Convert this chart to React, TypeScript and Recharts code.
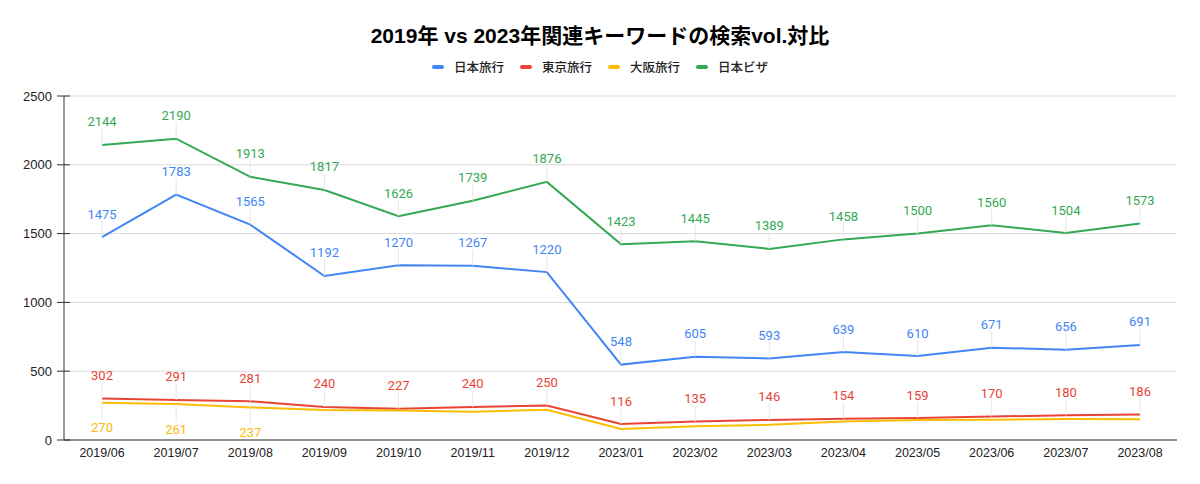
import { LineChart, Line, XAxis, YAxis, CartesianGrid, LabelList } from "recharts";

const months = [
  "2019/06", "2019/07", "2019/08", "2019/09", "2019/10", "2019/11", "2019/12",
  "2023/01", "2023/02", "2023/03", "2023/04", "2023/05", "2023/06", "2023/07", "2023/08",
];
const nihonRyoko = [1475, 1783, 1565, 1192, 1270, 1267, 1220, 548, 605, 593, 639, 610, 671, 656, 691];
const tokyoRyoko = [302, 291, 281, 240, 227, 240, 250, 116, 135, 146, 154, 159, 170, 180, 186];
const osakaRyoko = [270, 261, 237, 218, 215, 205, 220, 80, 100, 110, 135, 145, 148, 152, 150];
const nihonVisa = [2144, 2190, 1913, 1817, 1626, 1739, 1876, 1423, 1445, 1389, 1458, 1500, 1560, 1504, 1573];
const yTicks = [0, 500, 1000, 1500, 2000, 2500];

const series = [
  { key: "nihonRyoko", name: "日本旅行", color: "#4285f4", labelCount: 15, below: false },
  { key: "tokyoRyoko", name: "東京旅行", color: "#ea4335", labelCount: 15, below: false },
  { key: "osakaRyoko", name: "大阪旅行", color: "#fbbc04", labelCount: 3, below: true },
  { key: "nihonVisa", name: "日本ビザ", color: "#34a853", labelCount: 15, below: false },
];

const data = months.map((m, i) => ({
  month: m,
  nihonRyoko: nihonRyoko[i],
  tokyoRyoko: tokyoRyoko[i],
  osakaRyoko: osakaRyoko[i],
  nihonVisa: nihonVisa[i],
}));

const sansFont = "'Liberation Sans', Arial, 'Noto Sans CJK JP', sans-serif";
const labelFont = "Roboto, 'Noto Sans', sans-serif";

// value label with the faint leader line down (or up) to the point
const makeLabel = (color: string, below: boolean, count: number) => (props: any) => {
  const { x, y, value, index } = props;
  if (index >= count) return null;
  const textY = below ? y + 25 : y - 23;
  const lineEnd = below ? y + 17 : y - 16;
  return (
    <g>
      <line x1={x} x2={x} y1={y} y2={lineEnd} stroke="#e6e6e6" strokeWidth={1} />
      <text
        x={x}
        y={textY}
        textAnchor="middle"
        dominantBaseline="central"
        fill={color}
        fontSize={13}
        fontFamily={labelFont}
      >
        {value}
      </text>
    </g>
  );
};

const YTick = (props: any) => {
  const { x, y, payload } = props;
  return (
    <g>
      <line x1={x + 5} x2={x + 18} y1={y} y2={y} stroke="#333" strokeWidth={1} />
      <text x={x} y={y} textAnchor="end" dominantBaseline="central" fill="#222" fontSize={13} fontFamily={sansFont}>
        {payload.value}
      </text>
    </g>
  );
};

export default function App() {
  return (
    <div style={{ position: "absolute", left: 0, top: 0, width: 1200, height: 484, background: "#fff" }}>
      <div
        style={{
          position: "absolute",
          top: 19,
          left: 0,
          width: 1200,
          textAlign: "center",
          fontFamily: sansFont,
          fontWeight: "bold",
          fontSize: 21,
          color: "#000",
        }}
      >
        2019年 vs 2023年関連キーワードの検索vol.対比
      </div>

      {/* Legend */}
      <div
        style={{
          position: "absolute",
          top: 57,
          left: 0,
          width: 1200,
          display: "flex",
          justifyContent: "center",
          gap: 16,
          fontFamily: "'Noto Sans CJK JP', sans-serif",
          fontSize: 12.5,
          fontWeight: 500,
          color: "#222",
        }}
      >
        {series.map((s) => (
          <div key={s.key} style={{ display: "flex", alignItems: "center", gap: 10 }}>
            <div style={{ width: 12, height: 4, borderRadius: 2, background: s.color }}></div>
            <span>{s.name}</span>
          </div>
        ))}
      </div>

      <LineChart width={1200} height={484} data={data} margin={{ top: 96, right: 23, bottom: 14, left: 8 }}>
        <CartesianGrid vertical={false} stroke="#dadada" />
        <XAxis
          dataKey="month"
          padding={{ left: 38, right: 37 }}
          axisLine={{ stroke: "#333" }}
          tickLine={false}
          tickSize={0}
          tickMargin={8}
          height={30}
          interval={0}
          tick={{ fill: "#222", fontSize: 12.5, fontFamily: sansFont }}
        />
        <YAxis
          domain={[0, 2500]}
          ticks={yTicks}
          width={56}
          axisLine={{ stroke: "#333" }}
          tickLine={false}
          tickSize={6}
          tickMargin={6}
          tick={<YTick />}
        />
        {series.map((s) => (
          <Line
            key={s.key}
            type="linear"
            dataKey={s.key}
            name={s.name}
            stroke={s.color}
            strokeWidth={2}
            dot={false}
            activeDot={false}
            isAnimationActive={false}
          >
            <LabelList dataKey={s.key} content={makeLabel(s.color, s.below, s.labelCount)} />
          </Line>
        ))}
      </LineChart>
    </div>
  );
}
